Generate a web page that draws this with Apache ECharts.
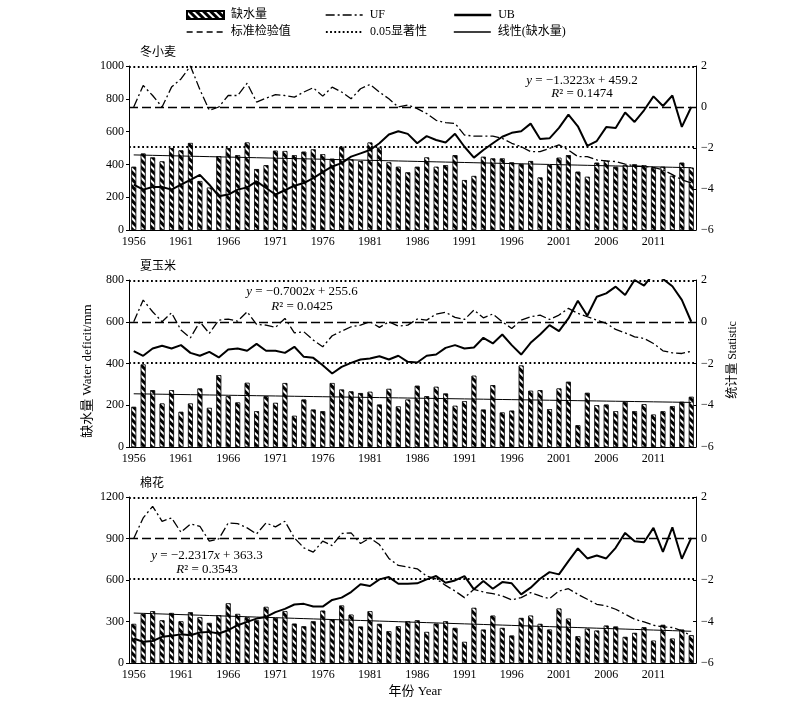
<!DOCTYPE html>
<html><head><meta charset="utf-8">
<script src="https://cdn.jsdelivr.net/npm/echarts@6/dist/echarts.min.js"></script>
<style>html,body{margin:0;padding:0;background:#fff}#c{width:800px;height:701px}</style>
</head><body><div id="c"></div>
<script>
const years = [];
for (let y = 1956; y <= 2015; y++) years.push(String(y));

// 冬小麦
const wheatDeficit = [385,466,442,418,499,485,530,298,258,450,
  499,456,533,371,395,483,481,456,477,491,
  462,434,507,430,420,533,501,412,385,351,
  385,442,385,395,456,304,329,446,436,436,
  412,402,420,320,395,440,456,355,324,410,
  422,385,395,400,395,378,385,330,410,380];
const wheatUF = [0,1.05,0.56,0.0,0.97,1.37,2.0,0.85,-0.16,0.0,
  0.56,0.56,1.16,0.24,0.43,0.6,0.56,0.48,0.73,0.94,
  0.53,0.97,0.73,0.4,0.89,1.1,0.73,0.4,0.0,0.1,
  -0.08,-0.32,-0.65,-0.76,-0.8,-1.37,-1.42,-1.42,-1.42,-1.53,
  -1.77,-1.94,-2.18,-2.18,-2.02,-1.85,-2.1,-2.42,-2.42,-2.58,
  -2.63,-2.66,-2.79,-2.87,-2.9,-2.95,-3.06,-3.3,-3.55,-3.7];
const wheatUB = [-3.79,-4.03,-3.9,-3.9,-4.03,-3.79,-3.55,-3.31,-3.79,-4.35,
  -4.27,-4.03,-3.92,-3.63,-3.95,-4.27,-4.06,-3.84,-3.71,-3.47,
  -3.18,-2.9,-2.74,-2.42,-2.26,-2.1,-1.77,-1.34,-1.18,-1.31,
  -1.77,-1.42,-1.61,-1.73,-1.31,-1.94,-2.47,-2.10,-1.77,-1.45,
  -1.26,-1.18,-0.81,-1.56,-1.53,-1.02,-0.37,-0.94,-1.90,-1.66,
  -0.98,-1.02,-0.27,-0.73,-0.16,0.52,0.05,0.56,-0.97,0.0];

// 夏玉米
const cornDeficit = [192,395,272,208,272,168,208,280,187,344,
  243,213,307,171,243,211,306,149,227,179,
  171,306,275,266,258,264,203,278,194,227,
  293,243,288,256,197,219,341,179,296,165,
  174,390,269,272,181,280,312,104,259,200,
  203,171,216,171,205,155,171,195,216,240];
const cornUF = [0,1.04,0.48,0,0.43,-0.4,-0.77,0,-0.56,0.08,
  0.13,0.03,0.48,-0.13,-0.16,-0.27,0.16,-0.53,-0.48,-0.88,
  -1.2,-0.67,-0.45,-0.24,-0.16,0,-0.27,0,-0.21,-0.16,
  0.13,0.08,0.37,0.45,0.21,0.11,0.56,0.19,0.37,0,
  -0.32,0.08,0.24,0.32,0.11,0.32,0.64,0.4,0.24,0.08,
  -0.08,-0.37,-0.53,-0.72,-0.8,-1.04,-1.39,-1.49,-1.52,-1.41];
const cornUB = [-1.41,-1.63,-1.28,-1.15,-1.28,-1.12,-1.49,-1.63,-1.44,-1.71,
  -1.33,-1.28,-1.39,-1.06,-1.39,-1.39,-1.49,-1.2,-1.68,-1.73,
  -2.08,-2.48,-2.16,-1.97,-1.81,-1.76,-1.65,-1.81,-1.63,-1.92,
  -1.95,-1.63,-1.57,-1.25,-1.12,-1.28,-1.23,-0.77,-1.04,-0.61,
  -1.12,-1.57,-1.01,-0.61,-0.16,-0.45,0.16,1.01,0.29,1.2,
  1.36,1.68,1.28,2.0,1.73,2.3,2.05,1.7,1.05,0];

// 棉花
const cottonDeficit = [282,354,374,308,361,301,366,330,289,345,
  431,354,330,308,405,325,374,284,265,301,
  378,313,415,349,263,374,282,229,265,301,
  308,224,284,301,253,152,398,241,342,253,
  198,325,342,282,241,393,320,193,248,234,
  270,263,188,217,258,161,275,176,241,200];
const cottonUF = [0,0.99,1.55,0.83,0.99,0.3,0.7,0.59,-0.13,-0.02,
  0.75,0.72,0.51,0.22,0.75,0.56,0.83,0.03,-0.45,-0.66,
  -0.13,-0.34,0.24,0.27,-0.24,0.03,-0.29,-0.96,-1.3,-1.38,
  -1.46,-1.81,-1.94,-2.26,-2.53,-2.85,-2.45,-2.58,-2.66,-2.77,
  -2.96,-2.85,-2.61,-2.77,-2.9,-2.53,-2.42,-2.69,-2.93,-3.17,
  -3.25,-3.41,-3.65,-3.89,-4.02,-4.18,-4.26,-4.29,-4.45,-4.69];
const cottonUB = [-4.82,-4.98,-4.94,-4.74,-4.69,-4.62,-4.66,-4.53,-4.5,-4.58,
  -4.42,-4.18,-4.02,-3.86,-3.78,-3.55,-3.39,-3.18,-3.15,-3.28,
  -3.28,-2.96,-2.85,-2.58,-2.2,-2.29,-1.97,-1.86,-2.18,-2.18,
  -2.16,-1.97,-1.81,-2.13,-2.02,-1.81,-2.45,-2.05,-2.42,-2.1,
  -2.16,-2.69,-2.37,-1.94,-1.62,-1.73,-1.09,-0.48,-0.96,-0.82,
  -0.96,-0.45,0.27,-0.13,-0.18,0.51,-0.64,0.54,-0.98,0.03];

const panelNames = ['冬小麦', '夏玉米', '棉花'];
const trendSlope = [-1.3223, -0.7002, -2.2317];
const trendIntercept = [459.2, 255.6, 363.3];
const trendR2 = ['0.1474', '0.0425', '0.3543'];
const leftMax = [1000, 800, 1200];
const leftInterval = [200, 200, 300];
const rightTicks = [-6, -4, -2, 0, 2];
const sigLevel = 1.96;

const deficits = [wheatDeficit, cornDeficit, cottonDeficit];
const ufs = [wheatUF, cornUF, cottonUF];
const ubs = [wheatUB, cornUB, cottonUB];

const SERIF = '"Liberation Serif","Times New Roman","Noto Sans CJK SC",serif';
const CJK = '"Noto Sans CJK SC","Liberation Serif",sans-serif';

const gridPos = [{top: 66, height: 164}, {top: 280, height: 167}, {top: 497, height: 166}];
const grids = gridPos.map(g => ({left: 129, right: 104, top: g.top, height: g.height}));

const labelStyle = {color: '#000', fontSize: 12, fontFamily: SERIF};
const xAxes = [], yAxes = [], series = [];
const minus = v => String(v).replace('-', '\u2212');

for (let i = 0; i < 3; i++) {
  xAxes.push({
    type: 'category', gridIndex: i, data: years, boundaryGap: true,
    axisLine: {lineStyle: {color: '#000', width: 1}},
    axisTick: {show: false},
    axisLabel: Object.assign({interval: 4, margin: 6}, labelStyle),
    splitLine: {show: false}
  });
  yAxes.push({
    type: 'value', gridIndex: i, position: 'left', min: 0, max: leftMax[i], interval: leftInterval[i],
    axisLine: {show: true, lineStyle: {color: '#000', width: 1}},
    axisTick: {show: true, length: 3, lineStyle: {color: '#000'}},
    axisLabel: Object.assign({margin: 5, formatter: v => String(v)}, labelStyle),
    splitLine: {show: false}
  });
  yAxes.push({
    type: 'value', gridIndex: i, position: 'right', min: rightTicks[0], max: rightTicks[rightTicks.length - 1], interval: 2,
    axisLine: {show: true, lineStyle: {color: '#000', width: 1}},
    axisTick: {show: true, length: 3, inside: true, lineStyle: {color: '#000'}},
    axisLabel: Object.assign({margin: 5, formatter: minus}, labelStyle),
    splitLine: {show: false}
  });
  series.push({
    name: '缺水量', type: 'bar', xAxisIndex: i, yAxisIndex: 2 * i, data: deficits[i], barWidth: '50%',
    itemStyle: {color: '#000', borderColor: '#000', borderWidth: 0.6,
      decal: {symbol: 'rect', symbolSize: 1, color: '#fff', dashArrayX: [1, 0], dashArrayY: [1.6, 2.3], rotation: Math.PI / 4}},
    silent: true, z: 2
  });
  series.push({
    name: '线性(缺水量)', type: 'line', xAxisIndex: i, yAxisIndex: 2 * i,
    data: years.map((_, k) => trendIntercept[i] + trendSlope[i] * (k + 1)),
    symbol: 'none', color: '#000', lineStyle: {color: '#000', width: 1}, silent: true, z: 3
  });
  series.push({
    name: 'UF', type: 'line', xAxisIndex: i, yAxisIndex: 2 * i + 1, data: ufs[i],
    symbol: 'none', color: '#000', lineStyle: {color: '#000', width: 1.3, type: [9, 3, 2, 3]}, silent: true, z: 4,
    markLine: {
      silent: true, symbol: ['none', 'none'], label: {show: false}, animation: false,
      data: [
        {yAxis: 0, lineStyle: {color: '#000', width: 1.3, type: [9, 4]}},
        {yAxis: sigLevel, lineStyle: {color: '#000', width: 1.8, type: [1.8, 2.6]}},
        {yAxis: -sigLevel, lineStyle: {color: '#000', width: 1.8, type: [1.8, 2.6]}}
      ]
    }
  });
  series.push({
    name: 'UB', type: 'line', xAxisIndex: i, yAxisIndex: 2 * i + 1, data: ubs[i],
    symbol: 'none', color: '#000', lineStyle: {color: '#000', width: 2}, silent: true, z: 5
  });
}
series.push({name: '标准检验值', type: 'line', xAxisIndex: 0, yAxisIndex: 1, data: [], symbol: 'none', color: '#000',
  lineStyle: {color: '#000', width: 1.3, type: [6, 4]}});
series.push({name: '0.05显著性', type: 'line', xAxisIndex: 0, yAxisIndex: 1, data: [], symbol: 'none', color: '#000',
  lineStyle: {color: '#000', width: 1.8, type: [1.8, 2.4]}});

const legendDefs = [
  {name: '缺水量', left: 186, top: 9, icon: 'rect'},
  {name: 'UF', left: 325, top: 9, lw: 1.3},
  {name: 'UB', left: 453, top: 9, lw: 2.4},
  {name: '标准检验值', left: 186, top: 26, lw: 1.3},
  {name: '0.05显著性', left: 325, top: 26, lw: 1.8},
  {name: '线性(缺水量)', left: 453, top: 26, lw: 1.6}
];
const legends = legendDefs.map(d => {
  const l = {data: [d.icon ? {name: d.name, icon: d.icon} : {name: d.name}], left: d.left, top: d.top, padding: 0,
    itemWidth: 37, itemHeight: 8, itemGap: 0, selectedMode: false,
    textStyle: {color: '#000', fontSize: 12, fontFamily: SERIF, padding: [0, 0, 0, 2]}};
  if (!d.icon) { l.itemStyle = {opacity: 0}; l.lineStyle = {width: d.lw}; }
  return l;
});

const graphics = [];
const titleY = [53, 267, 484];
for (let i = 0; i < 3; i++) {
  graphics.push({type: 'text', left: 140, top: titleY[i] - 8,
    style: {text: panelNames[i], fill: '#000', font: '12px ' + CJK}});
}
const fPos = [{x: 582, y: 81, ry: 94}, {x: 302, y: 292, ry: 307}, {x: 207, y: 556, ry: 570}];
const rich = {i: {fontStyle: 'italic', fontFamily: SERIF, fontSize: 13, fill: '#000'}};
for (let i = 0; i < 3; i++) {
  const slopeTxt = trendSlope[i].toFixed(4).replace('-', '\u2212');
  graphics.push({type: 'text', x: fPos[i].x, y: fPos[i].y,
    style: {text: '{i|y} = ' + slopeTxt + '{i|x} + ' + trendIntercept[i].toFixed(1), rich: rich,
      fill: '#000', font: '13px ' + SERIF, align: 'center', verticalAlign: 'middle'}});
  graphics.push({type: 'text', x: fPos[i].x, y: fPos[i].ry,
    style: {text: '{i|R}\u00b2 = ' + trendR2[i], rich: rich,
      fill: '#000', font: '13px ' + SERIF, align: 'center', verticalAlign: 'middle'}});
}
graphics.push({type: 'text', x: 88, y: 371, rotation: Math.PI / 2,
  style: {text: '缺水量 Water deficit/mm', fill: '#000', font: '13px ' + SERIF, align: 'center', verticalAlign: 'middle'}});
graphics.push({type: 'text', x: 733, y: 360, rotation: Math.PI / 2,
  style: {text: '统计量 Statistic', fill: '#000', font: '12px ' + SERIF, align: 'center', verticalAlign: 'middle'}});
graphics.push({type: 'text', x: 415, y: 692,
  style: {text: '年份 Year', fill: '#000', font: '13px ' + SERIF, align: 'center', verticalAlign: 'middle'}});

const chart = echarts.init(document.getElementById('c'));
chart.setOption({
  animation: false,
  backgroundColor: '#fff',
  grid: grids,
  xAxis: xAxes,
  yAxis: yAxes,
  legend: legends,
  series: series,
  graphic: graphics
});
</script></body></html>
